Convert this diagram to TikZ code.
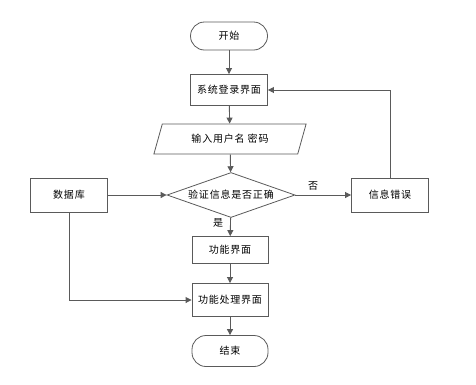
\documentclass[tikz,border=0pt]{standalone}
\usepackage{fontspec}
\setmainfont{Noto Sans CJK SC}[LetterSpace=8]
\usetikzlibrary{shapes.geometric,arrows.meta}
\definecolor{linegray}{HTML}{5A5A5A}
\begin{document}
\begin{tikzpicture}[x=1pt, y=-1pt,
    font=\fontsize{10}{12}\selectfont,
    every node/.style={text=black, inner sep=0pt},
    flowbox/.style={draw=linegray, line width=0.9pt, rectangle, minimum width=77pt, minimum height=32pt},
    termbox/.style={draw=linegray, line width=0.8pt, rectangle, rounded corners=14pt, minimum width=77pt, minimum height=28pt},
    inbox/.style={draw=linegray, line width=0.8pt, trapezium, trapezium left angle=63, trapezium right angle=117, minimum width=153pt, minimum height=30pt, trapezium stretches=true},
    decide/.style={draw=linegray, line width=0.8pt, diamond, minimum width=128pt, minimum height=45pt, aspect=2.8},
    flow/.style={draw=linegray, line width=0.9pt, -{Triangle[length=6pt, width=6pt]}}]
        \useasboundingbox (0,0) rectangle (476,384);

        % start, login, input
        \node[termbox] (start) at (229, 36) {开始};
        \node[flowbox, minimum height=31pt] (login) at (229, 90) {系统登录界面};
        \node[inbox] (input) at (230, 139) {输入用户名 密码};

        % check
        \node[decide] (check) at (231, 195) {验证信息是否正确};
        \node[flowbox, minimum height=34pt] (db) at (69, 195) {数据库};
        \node[flowbox, minimum height=34pt] (err) at (390, 195) {信息错误};

        % function pages, end
        \node[flowbox, minimum width=76pt, minimum height=27pt] (func) at (230, 250) {功能界面};
        \node[flowbox, minimum width=76pt, minimum height=33pt] (proc) at (230, 300) {功能处理界面};
        \node[termbox, minimum width=76pt, minimum height=31pt] (stop) at (230, 351) {结束};

        % Connections
        \draw[flow] (start) -- (login);
        \draw[flow] (login) -- (input);
        \draw[flow] (input) -- (check);
        \draw[flow] (db) -- (check);
        \draw[flow] (check) -- node[above=4pt, xshift=-10pt] {否} (err);
        \draw[flow] (check) -- node[left=7pt, pos=0.3] {是} (func);
        \draw[flow] (func) -- (proc);
        \draw[flow] (proc) -- (stop);
        \draw[flow] (err.north) |- (login.east);
        \draw[flow] (db.south) |- (proc.west);
\end{tikzpicture}
\end{document}
